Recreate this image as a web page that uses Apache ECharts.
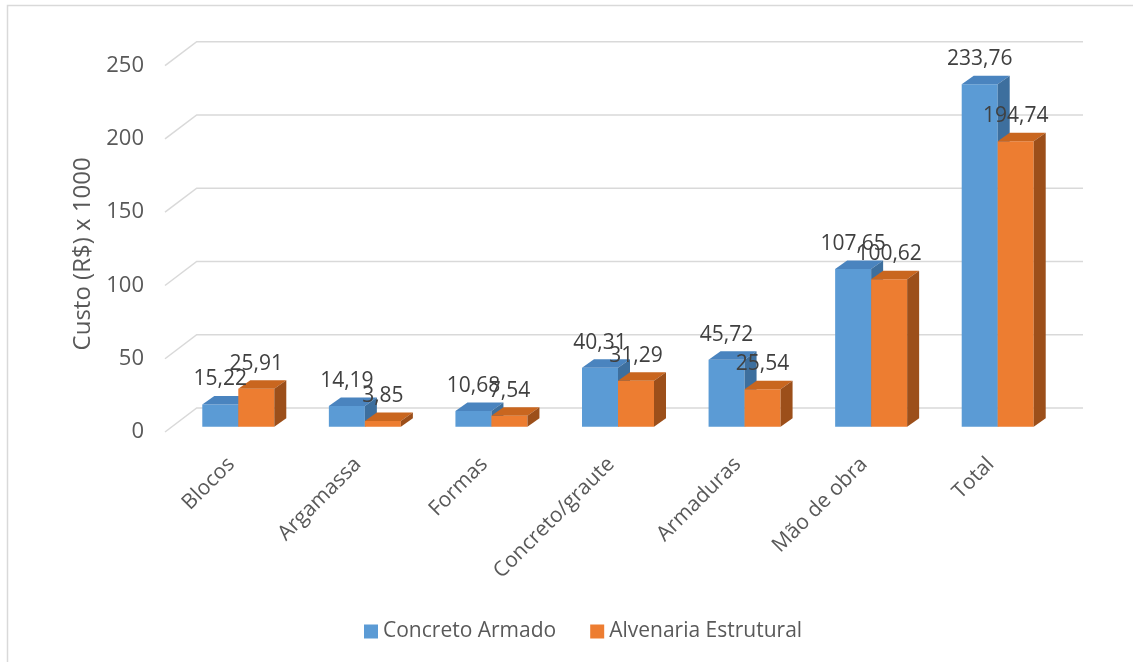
<!DOCTYPE html>
<html>
<head>
<meta charset="utf-8">
<script src="https://cdn.jsdelivr.net/npm/echarts@6/dist/echarts.min.js"></script>
<style>html,body{margin:0;padding:0;background:#fff;}#c{width:1133px;height:662px;}</style>
</head>
<body>
<div id="c"></div>
<script>
const categories = ['Blocos', 'Argamassa', 'Formas', 'Concreto/graute', 'Armaduras', 'Mão de obra', 'Total'];
const concretoArmado = [15.22, 14.19, 10.68, 40.31, 45.72, 107.65, 233.76];
const alvenariaEstrutural = [25.91, 3.85, 7.54, 31.29, 25.54, 100.62, 194.74];
const yTicks = [0, 50, 100, 150, 200, 250];
const seriesNames = ['Concreto Armado', 'Alvenaria Estrutural'];

const FONT = 'Open Sans';
const TXT = '#595959';
const BW = 36;          // bar front width
const DX0 = 7, DY0 = -5.3;   // bar front-face offset from front plane
const DDX = 12, DDY = 8.5;   // bar depth
const WX = 31.7, WY = 24;    // back wall offset

const palette = [
  { front: '#5b9bd5', top: '#4a84bf', side: '#3d6f9e' },
  { front: '#ed7d31', top: '#c9661f', side: '#9c4f1a' }
];

function fmt(v) { return v.toFixed(2).replace('.', ','); }

function barRender(si) {
  const col = palette[si];
  return function (params, api) {
    const ci = api.value(0), v = api.value(1);
    const c0 = api.coord([ci, 0]);
    const cv = api.coord([ci, v]);
    const cx = c0[0] + DX0;
    const xl = si === 0 ? cx - BW : cx;
    const xr = xl + BW;
    const yb = c0[1] + DY0;
    const yt = cv[1] + DY0;
    return {
      type: 'group',
      children: [
        { type: 'rect', shape: { x: xl, y: yt, width: BW, height: yb - yt }, style: { fill: col.front } },
        { type: 'polygon', shape: { points: [[xl, yt], [xr, yt], [xr + DDX, yt - DDY], [xl + DDX, yt - DDY]] }, style: { fill: col.top } },
        { type: 'polygon', shape: { points: [[xr, yt], [xr + DDX, yt - DDY], [xr + DDX, yb - DDY], [xr, yb]] }, style: { fill: col.side } },
        { type: 'text', z2: 100, style: { text: fmt(v), x: xl + BW / 2, y: yt - 25, align: 'center', verticalAlign: 'middle', fontFamily: FONT, fontSize: 21, fill: '#404040' } }
      ]
    };
  };
}

function gridRender(params, api) {
  const y = api.coord([0, api.value(1)])[1];
  const cs = params.coordSys;
  const x0 = cs.x - 3;
  return {
    type: 'polyline',
    shape: { points: [[x0, y], [x0 + WX, y - WY], [cs.x + cs.width + 29, y - WY]] },
    style: { stroke: '#d9d9d9', lineWidth: 1.5, fill: null }
  };
}

const chart = echarts.init(document.getElementById('c'), null, { renderer: 'canvas' });
chart.setOption({
  animation: false,
  backgroundColor: '#ffffff',
  graphic: [
    { type: 'polyline', shape: { points: [[7.5, 662], [7.5, 5.5], [1133, 5.5]] }, style: { stroke: '#d9d9d9', lineWidth: 1.5, fill: null } }
  ],
  grid: { left: 168, top: 65.7, width: 886, height: 366.3, containLabel: false },
  legend: {
    left: 359, top: 616,
    data: seriesNames,
    icon: 'rect', itemWidth: 14, itemHeight: 14, itemGap: 34,
    textStyle: { fontFamily: FONT, fontSize: 21, color: TXT }
  },
  xAxis: {
    type: 'category', data: categories,
    axisLine: { show: false }, axisTick: { show: false },
    axisLabel: { rotate: 45, margin: 29, interval: 0, fontFamily: FONT, fontSize: 21, color: TXT }
  },
  yAxis: {
    type: 'value', min: 0, max: 250, interval: 50,
    axisLine: { show: false }, axisTick: { show: false }, splitLine: { show: false },
    axisLabel: { margin: 24, fontFamily: FONT, fontSize: 22, color: TXT, formatter: v => String(v) },
    name: 'Custo (R$) x 1000', nameLocation: 'middle', nameRotate: 90, nameGap: 70,
    nameTextStyle: { fontFamily: FONT, fontSize: 24, color: TXT, padding: [0, 10, 0, 0] }
  },
  series: [
    { type: 'custom', name: '_grid', silent: true, z: 1, renderItem: gridRender, data: yTicks.map(v => [0, v]), encode: { x: 0, y: 1 } },
    { type: 'custom', name: seriesNames[0], z: 2, renderItem: barRender(0), itemStyle: { color: palette[0].front }, data: concretoArmado.map((v, i) => [i, v]), encode: { x: 0, y: 1 } },
    { type: 'custom', name: seriesNames[1], z: 2, renderItem: barRender(1), itemStyle: { color: palette[1].front }, data: alvenariaEstrutural.map((v, i) => [i, v]), encode: { x: 0, y: 1 } }
  ]
});
</script>
</body>
</html>
